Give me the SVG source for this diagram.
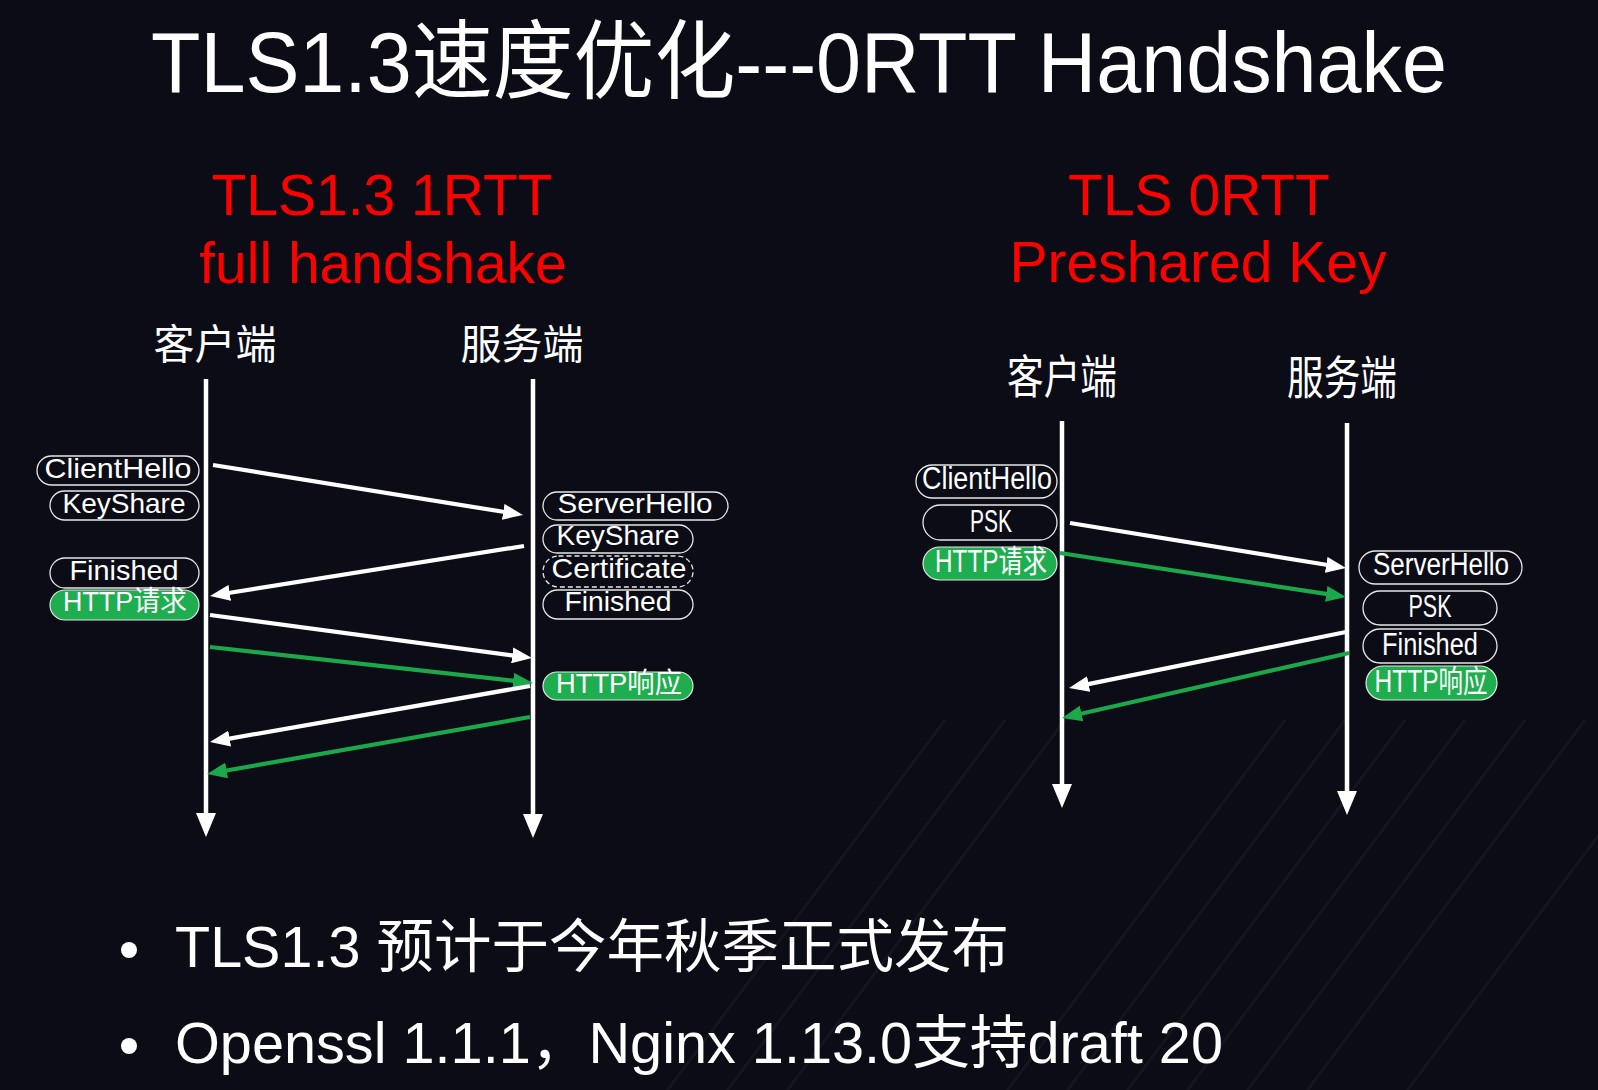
<svg xmlns="http://www.w3.org/2000/svg" width="1598" height="1090" viewBox="0 0 1598 1090">
<defs>
<style>
.bg{fill:#0b0c15}
.title{font-family:"Liberation Sans","Noto Sans CJK SC",sans-serif;font-size:86px;fill:#ffffff}
.red{font-family:"Liberation Sans",sans-serif;font-size:57px;fill:#ff0000;text-anchor:middle}
.cn{font-family:"Noto Sans CJK SC",sans-serif;fill:#ffffff;text-anchor:middle}
.pill{fill:none;stroke:#e6e6e6;stroke-width:1.3}
.pill-d{fill:none;stroke:#e6e6e6;stroke-width:1.3;stroke-dasharray:5 3}
.pill-g{fill:#1fae4f;stroke:#e6e6e6;stroke-width:1.2}
.pt{font-family:"Liberation Sans","Noto Sans CJK SC",sans-serif;font-size:28px;fill:#ffffff;text-anchor:middle}
.pt2{font-family:"Liberation Sans","Noto Sans CJK SC",sans-serif;font-size:31px;fill:#ffffff;text-anchor:middle}
.life{stroke:#ffffff;stroke-width:4.5;fill:none}
.aw{stroke:#ffffff;stroke-width:4.2;fill:none}
.ag{stroke:#1aa84b;stroke-width:4.2;fill:none}
.bul{font-family:"Liberation Sans","Noto Sans CJK SC",sans-serif;font-size:58px;fill:#ffffff}
.stripe{stroke:#14151e;stroke-width:3;fill:none}
</style>
<marker id="mw" markerUnits="userSpaceOnUse" markerWidth="20" markerHeight="16" refX="3" refY="8" orient="auto" viewBox="0 0 20 16"><path d="M0,0 L20,8 L0,16 z" fill="#ffffff"/></marker>
<marker id="mg" markerUnits="userSpaceOnUse" markerWidth="20" markerHeight="16" refX="3" refY="8" orient="auto" viewBox="0 0 20 16"><path d="M0,0 L20,8 L0,16 z" fill="#1aa84b"/></marker>
<marker id="ml" markerUnits="userSpaceOnUse" markerWidth="24" markerHeight="20" refX="1" refY="10" orient="auto" viewBox="0 0 24 20"><path d="M0,0 L24,10 L0,20 z" fill="#ffffff"/></marker>
<clipPath id="sc"><polygon points="640,1090 900,720 1598,720 1598,1090"/></clipPath>
</defs>
<rect class="bg" x="0" y="0" width="1598" height="1090"/>
<g id="background-stripes" clip-path="url(#sc)">
<path class="stripe" d="M600,1100 L960,620 M660,1100 L1020,620 M720,1100 L1080,620 M780,1100 L1140,620 M1000,1100 L1360,620 M1060,1100 L1420,620 M1120,1100 L1480,620 M1180,1100 L1540,620 M1240,1100 L1600,620 M1300,1100 L1660,620 M1400,1100 L1760,620"/>
</g>

<g id="title">
<text class="title" x="151" y="92" textLength="1296" lengthAdjust="spacingAndGlyphs">TLS1.3速度优化---0RTT Handshake</text>
</g>

<g id="header-left">
<text class="red" x="382" y="215">TLS1.3 1RTT</text>
<text class="red" x="383" y="283">full handshake</text>
</g>
<g id="header-right">
<text class="red" x="1199" y="215">TLS 0RTT</text>
<text class="red" x="1198" y="282">Preshared Key</text>
</g>

<g id="left-client-label"><text class="cn" x="215" y="359" font-size="41">客户端</text></g>
<g id="left-server-label"><text class="cn" x="522" y="359" font-size="41">服务端</text></g>
<g id="right-client-label"><text class="cn" x="1062" y="393" font-size="46" textLength="110" lengthAdjust="spacingAndGlyphs">客户端</text></g>
<g id="right-server-label"><text class="cn" x="1342" y="394" font-size="46" textLength="110" lengthAdjust="spacingAndGlyphs">服务端</text></g>

<g id="connectors">
<line class="life" x1="206" y1="379" x2="206" y2="814" marker-end="url(#ml)"/>
<line class="life" x1="533" y1="379" x2="533" y2="815" marker-end="url(#ml)"/>
<line class="life" x1="1062" y1="421" x2="1062" y2="785" marker-end="url(#ml)"/>
<line class="life" x1="1347" y1="423" x2="1347" y2="792" marker-end="url(#ml)"/>

<line class="aw" x1="213" y1="465" x2="506.2" y2="512.3" marker-end="url(#mw)"/>
<line class="aw" x1="524" y1="546" x2="226.8" y2="593.3" marker-end="url(#mw)"/>
<line class="aw" x1="210" y1="615" x2="515.2" y2="655.8" marker-end="url(#mw)"/>
<line class="ag" x1="210" y1="647" x2="516.1" y2="681.1" marker-end="url(#mg)"/>
<line class="aw" x1="530" y1="686" x2="226.7" y2="739.1" marker-end="url(#mw)"/>
<line class="ag" x1="530" y1="717" x2="223.7" y2="771" marker-end="url(#mg)"/>

<line class="aw" x1="1070" y1="523" x2="1329.2" y2="565.3" marker-end="url(#mw)"/>
<line class="ag" x1="1060" y1="553" x2="1329.2" y2="594.4" marker-end="url(#mg)"/>
<line class="aw" x1="1346" y1="632" x2="1085.7" y2="684.6" marker-end="url(#mw)"/>
<line class="ag" x1="1349" y1="653" x2="1078.6" y2="714.2" marker-end="url(#mg)"/>
</g>

<g id="l-client-hello"><rect class="pill" x="37" y="456" width="162" height="29" rx="14.5"/><text class="pt" x="118" y="478" textLength="147" lengthAdjust="spacingAndGlyphs">ClientHello</text></g>
<g id="l-client-keyshare"><rect class="pill" x="50" y="491" width="149" height="29" rx="14.5"/><text class="pt" x="124" y="513" textLength="123" lengthAdjust="spacingAndGlyphs">KeyShare</text></g>
<g id="l-client-finished"><rect class="pill" x="50" y="558" width="149" height="30" rx="15"/><text class="pt" x="124" y="580" textLength="109" lengthAdjust="spacingAndGlyphs">Finished</text></g>
<g id="l-client-http"><rect class="pill-g" x="50" y="590" width="149" height="30" rx="15"/><text class="pt" x="125" y="611" textLength="124" lengthAdjust="spacingAndGlyphs">HTTP请求</text></g>

<g id="l-server-hello"><rect class="pill" x="543" y="492" width="185" height="28" rx="14"/><text class="pt" x="635" y="513" textLength="155" lengthAdjust="spacingAndGlyphs">ServerHello</text></g>
<g id="l-server-keyshare"><rect class="pill" x="543" y="525" width="150" height="28" rx="14"/><text class="pt" x="618" y="545" textLength="123" lengthAdjust="spacingAndGlyphs">KeyShare</text></g>
<g id="l-server-certificate"><rect class="pill-d" x="543" y="556" width="150" height="31" rx="15.5"/><text class="pt" x="619" y="578" textLength="135" lengthAdjust="spacingAndGlyphs">Certificate</text></g>
<g id="l-server-finished"><rect class="pill" x="543" y="590" width="150" height="29" rx="14.5"/><text class="pt" x="618" y="611" textLength="107" lengthAdjust="spacingAndGlyphs">Finished</text></g>
<g id="l-server-http"><rect class="pill-g" x="543" y="672" width="150" height="28" rx="14"/><text class="pt" x="619" y="693" textLength="126" lengthAdjust="spacingAndGlyphs">HTTP响应</text></g>

<g id="r-client-hello"><rect class="pill" x="916" y="465" width="141" height="33" rx="16.5"/><text class="pt2" x="987" y="489" textLength="130" lengthAdjust="spacingAndGlyphs">ClientHello</text></g>
<g id="r-client-psk"><rect class="pill" x="923" y="505" width="134" height="35" rx="17.5"/><text class="pt2" x="991" y="532" textLength="42" lengthAdjust="spacingAndGlyphs">PSK</text></g>
<g id="r-client-http"><rect class="pill-g" x="923" y="547" width="134" height="33" rx="16.5"/><text class="pt2" x="991" y="572" textLength="112" lengthAdjust="spacingAndGlyphs">HTTP请求</text></g>

<g id="r-server-hello"><rect class="pill" x="1359" y="551" width="163" height="33" rx="16.5"/><text class="pt2" x="1441" y="575" textLength="136" lengthAdjust="spacingAndGlyphs">ServerHello</text></g>
<g id="r-server-psk"><rect class="pill" x="1363" y="591" width="134" height="34" rx="17"/><text class="pt2" x="1430" y="617" textLength="43" lengthAdjust="spacingAndGlyphs">PSK</text></g>
<g id="r-server-finished"><rect class="pill" x="1363" y="629" width="134" height="34" rx="17"/><text class="pt2" x="1430" y="655" textLength="96" lengthAdjust="spacingAndGlyphs">Finished</text></g>
<g id="r-server-http"><rect class="pill-g" x="1366" y="666" width="131" height="34" rx="17"/><text class="pt2" x="1431" y="692" textLength="113" lengthAdjust="spacingAndGlyphs">HTTP响应</text></g>

<g id="bullets">
<circle cx="129" cy="950" r="8" fill="#ffffff"/>
<text class="bul" x="175" y="967" textLength="834" lengthAdjust="spacingAndGlyphs">TLS1.3 预计于今年秋季正式发布</text>
<circle cx="129" cy="1046" r="8" fill="#ffffff"/>
<text class="bul" x="175" y="1063" textLength="1048" lengthAdjust="spacingAndGlyphs">Openssl 1.1.1，Nginx 1.13.0支持draft 20</text>
</g>
</svg>
